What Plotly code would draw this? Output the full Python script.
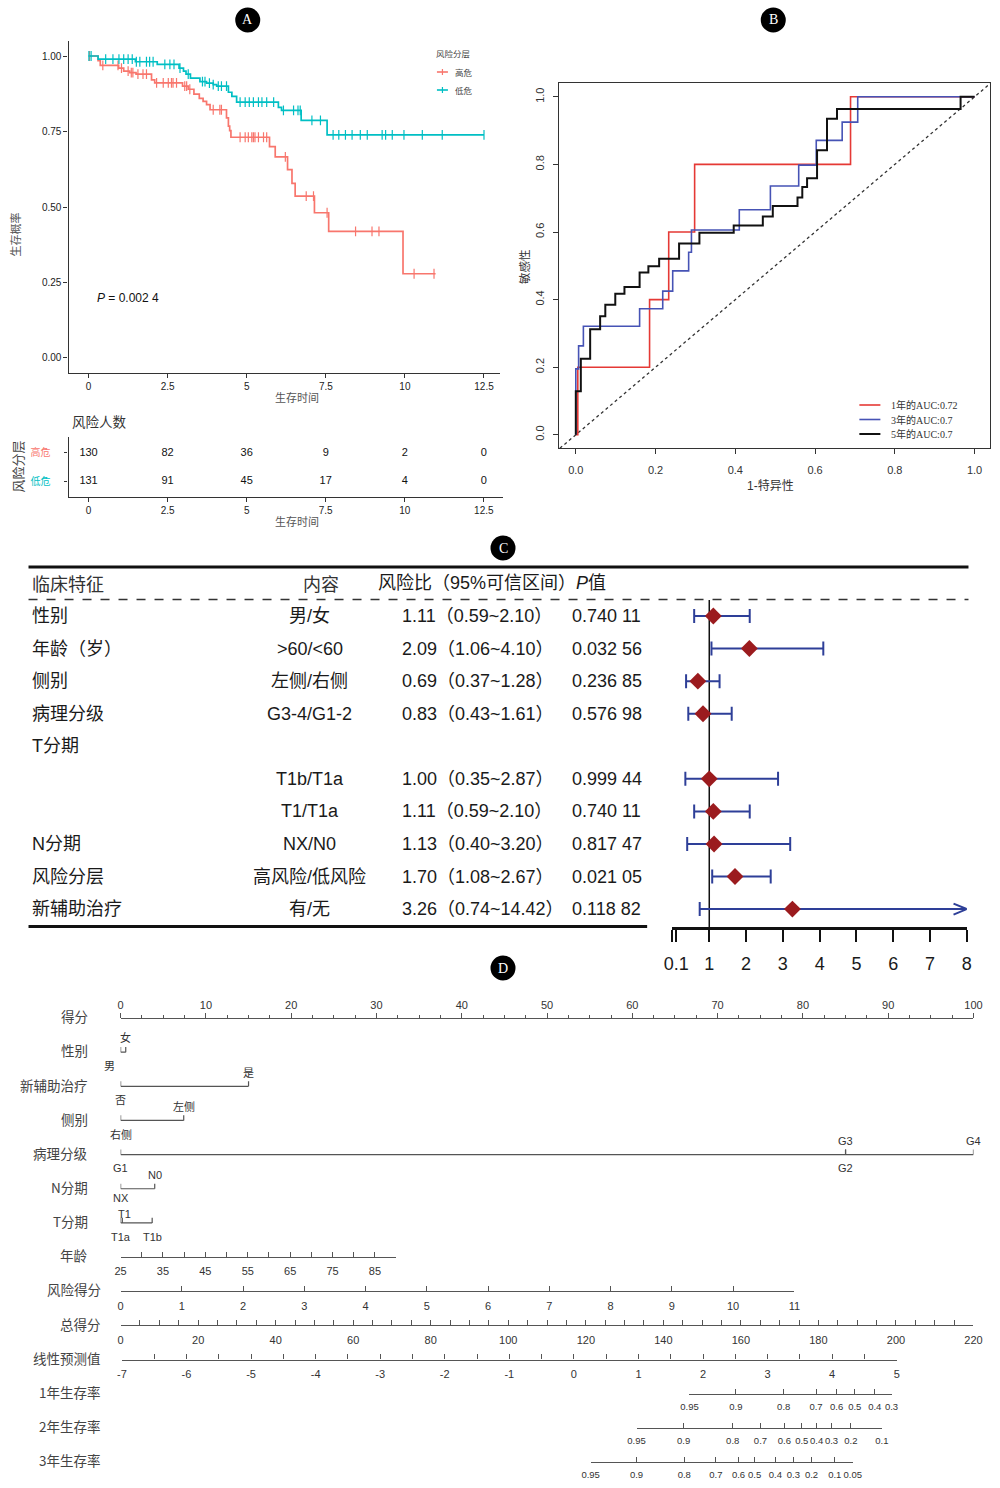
import numpy as np
import plotly.graph_objects as go

W, H = 1000, 1488
# the photographed page places paper x in [~9.5, ~990.5] px; map reference pixels accordingly
X_OFF, X_SCALE = 9.5, 0.981


def fx(p):
    return (p - X_OFF) / (W * X_SCALE)


def fy(p):
    return 1 - p / H


SANS = "Liberation Sans, Noto Sans CJK SC, sans-serif"
NARROW = "Liberation Sans Narrow, Liberation Sans, Noto Sans CJK SC, sans-serif"
SERIF = "Liberation Serif, Noto Sans CJK SC, serif"
CJK = "Noto Sans CJK SC, sans-serif"

# ======================= DATA =======================
km_high_time = [0, 0.30, 0.37, 0.95, 1.11, 1.30, 1.50, 1.99, 2.09, 2.97, 3.15, 3.33, 3.50, 3.62,
                3.73, 3.84, 4.36, 4.42, 4.46, 4.50, 5.72, 5.90, 6.29, 6.43, 6.53, 7.14, 7.59, 9.94]
km_high_surv = [1.0, 0.985, 0.969, 0.96, 0.95, 0.945, 0.94, 0.921, 0.911, 0.90, 0.89, 0.874, 0.86, 0.85,
                0.839, 0.822, 0.795, 0.768, 0.753, 0.731, 0.70, 0.666, 0.624, 0.578, 0.536, 0.481, 0.419, 0.279]
km_high_end = 10.97
km_high_censor = [0.03, 0.45, 0.93, 1.04, 1.25, 1.35, 1.40, 1.56, 1.72, 1.83, 2.15, 2.36, 2.52, 2.62,
                  2.67, 2.78, 3.04, 3.10, 3.20, 3.94, 4.15, 4.20, 4.79, 4.95, 5.05, 5.16, 5.21, 5.26,
                  5.37, 5.53, 5.63, 6.22, 6.88, 7.11, 7.54, 8.44, 8.96, 9.18, 10.29, 10.92]

km_low_time = [0, 0.30, 1.48, 2.17, 2.86, 3.00, 3.08, 3.22, 3.52, 3.73, 3.94, 4.05, 4.42, 4.53,
               4.68, 6.00, 6.10, 6.72, 7.54]
km_low_surv = [1.0, 0.99, 0.981, 0.972, 0.96, 0.95, 0.94, 0.927, 0.915, 0.91, 0.905, 0.90, 0.88, 0.866,
               0.847, 0.83, 0.82, 0.787, 0.739]
km_low_end = 12.5
km_low_censor = [0.01, 0.08, 0.54, 0.77, 0.96, 1.11, 1.25, 1.38, 1.51, 1.62, 1.83, 1.93, 2.04, 2.41,
                 2.57, 2.70, 2.89, 3.15, 3.60, 3.68, 3.82, 3.94, 4.10, 4.20, 4.36, 4.79, 4.95, 5.08,
                 5.21, 5.37, 5.48, 5.63, 5.85, 6.16, 6.48, 6.62, 6.69, 7.06, 7.33, 7.73, 7.91, 8.12,
                 8.33, 8.59, 8.81, 9.28, 9.39, 9.60, 9.97, 10.55, 11.18, 12.5]

km_time_ticks = [0, 2.5, 5, 7.5, 10, 12.5]
km_time_ticktext = ["0", "2.5", "5", "7.5", "10", "12.5"]
km_surv_ticks = [0, 0.25, 0.5, 0.75, 1.0]
km_p_value_y = 0.199
km_p_text = "<i>P</i> = 0.002 4"
group_names = ["高危", "低危"]

risk_times = [0, 2.5, 5, 7.5, 10, 12.5]
risk_high = [130, 82, 36, 9, 2, 0]
risk_low = [131, 91, 45, 17, 4, 0]

roc1_fpr = [0, 0.005, 0.185, 0.233, 0.298, 0.689, 1.0]
roc1_tpr = [0, 0.2, 0.4, 0.6, 0.8, 1.0, 1.0]
roc3_fpr = [0, 0, 0.007, 0.019, 0.160, 0.218, 0.243, 0.283, 0.290, 0.410, 0.488, 0.559, 0.603,
            0.668, 0.707, 1.0]
roc3_tpr = [0, 0.195, 0.263, 0.321, 0.373, 0.425, 0.485, 0.540, 0.606, 0.666, 0.736, 0.798, 0.871,
            0.925, 1.0, 1.0]
roc5_fpr = [0, 0, 0.0126, 0.036, 0.061, 0.074, 0.099, 0.122, 0.160, 0.182, 0.209, 0.259, 0.310,
            0.396, 0.469, 0.494, 0.556, 0.568, 0.580, 0.605, 0.630, 0.655, 0.965, 1.0]
roc5_tpr = [0, 0.129, 0.225, 0.312, 0.351, 0.385, 0.417, 0.437, 0.480, 0.499, 0.521, 0.566, 0.598,
            0.619, 0.646, 0.677, 0.702, 0.733, 0.759, 0.842, 0.935, 0.964, 1.0, 1.0]
roc_labels = ["1年的AUC:0.72", "3年的AUC:0.7", "5年的AUC:0.7"]
roc_ticks = [0, 0.2, 0.4, 0.6, 0.8, 1.0]

forest_feature = ["性别", "年龄（岁）", "侧别", "病理分级", "T分期", "", "", "N分期", "风险分层", "新辅助治疗"]
forest_content = ["男/女", "&gt;60/&lt;60", "左侧/右侧", "G3-4/G1-2", "", "T1b/T1a", "T1/T1a", "NX/N0",
                  "高风险/低风险", "有/无"]
forest_hr = [1.11, 2.09, 0.69, 0.83, None, 1.00, 1.11, 1.13, 1.70, 3.26]
forest_lo = [0.59, 1.06, 0.37, 0.43, None, 0.35, 0.59, 0.40, 1.08, 0.74]
forest_hi = [2.10, 4.10, 1.28, 1.61, None, 2.87, 2.10, 3.20, 2.67, 14.42]
forest_p = ["0.740 11", "0.032 56", "0.236 85", "0.576 98", "", "0.999 44", "0.740 11", "0.817 47",
            "0.021 05", "0.118 82"]
forest_header = ["临床特征", "内容", "风险比（95%可信区间）<i>P</i>值"]
forest_ticks = [0, 0.1, 1, 2, 3, 4, 5, 6, 7, 8]
forest_ticktext = ["", "0.1", "1", "2", "3", "4", "5", "6", "7", "8"]
forest_xmax = 8

nomo_row_labels = ["得分", "性别", "新辅助治疗", "侧别", "病理分级", "N分期", "T分期", "年龄",
                   "风险得分", "总得分", "线性预测值", "1年生存率", "2年生存率", "3年生存率"]
sex_levels, sex_points = ["男", "女"], [0, 0.6]
neo_levels, neo_points = ["否", "是"], [0, 15]
side_levels, side_points = ["右侧", "左侧"], [0, 7.4]
grade_levels, grade_points = ["G1", "G2", "G3", "G4"], [0, 85, 85, 100]
nstage_levels, nstage_points = ["NX", "N0"], [0, 4]
tstage_levels, tstage_points = ["T1a", "T1", "T1b"], [0, 0.2, 3.7]

age_range = [25, 90]
age_points_at_max = 32.3
risk_range = [0, 11]
risk_points_at_max = 79.0
total_range = [0, 220]
lp_range = [-7, 5]
lp_points_span = [0.15, 91.0]

surv1_prob = ["0.95", "0.9", "0.8", "0.7", "0.6", "0.5", "0.4", "0.3"]
surv1_lp = [1.79, 2.51, 3.25, 3.75, 4.07, 4.35, 4.66, 4.92]
surv2_prob = ["0.95", "0.9", "0.8", "0.7", "0.6", "0.5", "0.4", "0.3", "0.2", "0.1"]
surv2_lp = [0.97, 1.70, 2.46, 2.89, 3.26, 3.53, 3.76, 3.99, 4.29, 4.77]
surv3_prob = ["0.95", "0.9", "0.8", "0.7", "0.6", "0.5", "0.4", "0.3", "0.2", "0.1", "0.05"]
surv3_lp = [0.26, 0.97, 1.71, 2.20, 2.55, 2.80, 3.12, 3.40, 3.68, 4.04, 4.32]

# ======================= STYLE =======================
RED_A, CYAN_A = "#F8766D", "#00BFC4"
ROC_COLORS = ["#E53935", "#4653B5", "#111111"]
ROC_WIDTHS = [1.6, 1.6, 2.0]
BLUE_F, RED_F = "#2E3F98", "#9B1B1E"
NOMO_LINE = "#555555"
TXT = "#1a1a1a"

fig = go.Figure()
annotations = []
shapes = []


def note(x, y, text, size, color="#333", family=CJK, xanchor="center", angle=0, yref="paper"):
    annotations.append(dict(x=x, y=y, xref="paper", yref=yref, text=text, showarrow=False,
                            xanchor=xanchor, yanchor="middle", textangle=angle,
                            font=dict(size=size, color=color, family=family)))


def step_lookup(times, surv, t):
    idx = np.searchsorted(np.asarray(times), np.asarray(t), side="right") - 1
    return np.asarray(surv)[idx]


# ---------------- Panel A ----------------
for times, surv, end, cens, color in [
    (km_high_time, km_high_surv, km_high_end, km_high_censor, RED_A),
    (km_low_time, km_low_surv, km_low_end, km_low_censor, CYAN_A),
]:
    fig.add_trace(go.Scatter(x=times + [end], y=surv + [surv[-1]], mode="lines",
                             line=dict(color=color, width=1.7, shape="hv"),
                             xaxis="x", yaxis="y", hoverinfo="skip"))
    fig.add_trace(go.Scatter(x=cens, y=step_lookup(times, surv, cens), mode="markers",
                             marker=dict(symbol="line-ns-open", size=7, color=color,
                                         line=dict(color=color, width=1.2)),
                             xaxis="x", yaxis="y", hoverinfo="skip"))

for yv, counts in [(1, risk_high), (0, risk_low)]:
    fig.add_trace(go.Scatter(x=risk_times, y=[yv] * len(risk_times), mode="text",
                             text=[str(c) for c in counts],
                             textfont=dict(size=11, color="#111", family=NARROW),
                             xaxis="x2", yaxis="y2", hoverinfo="skip", cliponaxis=False))

# ---------------- Panel B ----------------
fig.add_trace(go.Scatter(x=[-0.04, 1.04], y=[-0.04, 1.04], mode="lines",
                         line=dict(color="#333", width=1.3, dash="dot"),
                         xaxis="x3", yaxis="y3", hoverinfo="skip"))
for fpr, tpr, color, wdt in zip([roc1_fpr, roc3_fpr, roc5_fpr], [roc1_tpr, roc3_tpr, roc5_tpr],
                                ROC_COLORS, ROC_WIDTHS):
    fig.add_trace(go.Scatter(x=fpr, y=tpr, mode="lines", line=dict(color=color, width=wdt, shape="hv"),
                             xaxis="x3", yaxis="y3", hoverinfo="skip"))

# ---------------- Panel C ----------------
rows_c = list(range(len(forest_feature)))
DASH_ROW = -0.49
fig.add_trace(go.Scatter(x=[1, 1], y=[DASH_ROW, 9.55], mode="lines", line=dict(color="#111", width=1.5),
                         xaxis="x4", yaxis="y4", hoverinfo="skip"))
in_r = [i for i in rows_c if forest_hr[i] is not None and forest_hi[i] <= forest_xmax]
fig.add_trace(go.Scatter(
    x=[forest_hr[i] for i in in_r], y=in_r, mode="markers",
    marker=dict(symbol="diamond", size=1, color="rgba(0,0,0,0)"),
    error_x=dict(type="data", symmetric=False,
                 array=[forest_hi[i] - forest_hr[i] for i in in_r],
                 arrayminus=[forest_hr[i] - forest_lo[i] for i in in_r],
                 color=BLUE_F, thickness=2, width=7),
    xaxis="x4", yaxis="y4", hoverinfo="skip", cliponaxis=False))
for i in rows_c:
    if forest_hr[i] is not None and forest_hi[i] > forest_xmax:
        xs = [forest_lo[i], forest_xmax, None, forest_lo[i], forest_lo[i], None,
              forest_xmax - 0.36, forest_xmax, forest_xmax - 0.36]
        ys = [i, i, None, i - 0.215, i + 0.215, None, i - 0.17, i, i + 0.17]
        fig.add_trace(go.Scatter(x=xs, y=ys, mode="lines", line=dict(color=BLUE_F, width=2),
                                 xaxis="x4", yaxis="y4", hoverinfo="skip", cliponaxis=False))
hr_rows = [i for i in rows_c if forest_hr[i] is not None]
fig.add_trace(go.Scatter(x=[forest_hr[i] for i in hr_rows], y=hr_rows, mode="markers",
                         marker=dict(symbol="diamond", size=13, color=RED_F),
                         xaxis="x4", yaxis="y4", hoverinfo="skip", cliponaxis=False))

note(fx(30), -1.01, forest_header[0], 18, "#333", CJK, "left", yref="y4")
note(fx(321), -1.01, forest_header[1], 18, "#333", CJK, "center", yref="y4")
note(fx(376), -1.01, forest_header[2], 18, TXT, SANS, "left", yref="y4")
for i in rows_c:
    if forest_feature[i]:
        note(fx(30), i, forest_feature[i], 18, TXT, SANS, "left", yref="y4")
    if forest_content[i]:
        note(fx(310), i, forest_content[i], 18, TXT, SANS, "center", yref="y4")
    if forest_hr[i] is not None:
        note(fx(400), i, f"{forest_hr[i]:.2f}（{forest_lo[i]:.2f}~{forest_hi[i]:.2f}）", 18, TXT, SANS,
             "left", yref="y4")
    if forest_p[i]:
        note(fx(570), i, forest_p[i], 18, TXT, SANS, "left", yref="y4")
shapes.append(dict(type="line", xref="paper", yref="paper", x0=fx(29), x1=fx(968), y0=fy(567), y1=fy(567),
                   line=dict(color="#111", width=3)))
shapes.append(dict(type="line", xref="paper", yref="paper", x0=fx(29), x1=fx(968), y0=fy(599.5), y1=fy(599.5),
                   line=dict(color="#333", width=1.3, dash="dash")))
shapes.append(dict(type="line", xref="paper", yref="paper", x0=fx(29), x1=fx(647), y0=fy(926.5), y1=fy(926.5),
                   line=dict(color="#111", width=3)))

# ---------------- Panel D ----------------
ROW0, ROWH = 1018, 34.15
PTS_PX0, PTS_PX1 = 121, 973


def row_px(i):
    return ROW0 + ROWH * i


def pts_px(p):
    return PTS_PX0 + (PTS_PX1 - PTS_PX0) * p / 100.0


def lp_to_pts(lp):
    return lp_points_span[0] + (lp - lp_range[0]) / (lp_range[1] - lp_range[0]) * (lp_points_span[1] - lp_points_span[0])


cat_rows = [
    (1, sex_levels, sex_points, ["below", "above"]),
    (2, neo_levels, neo_points, ["below", "above"]),
    (3, side_levels, side_points, ["below", "above"]),
    (4, grade_levels, grade_points, ["below", "below", "above", "above"]),
    (5, nstage_levels, nstage_points, ["below", "above"]),
    (6, tstage_levels, tstage_points, ["below", "above", "below"]),
]
label_xshift = {"男": -11, "T1": 2}
label_gap = {"NX": 0.27, "T1": 0.27, "女": 0.42}
for r, levels, points, sides in cat_rows:
    xs = [min(points), max(points)]
    ys = [r, r]
    for p in points:
        xs += [None, p, p]
        ys += [None, r, r - 0.15]
    fig.add_trace(go.Scatter(x=xs, y=ys, mode="lines", line=dict(color=NOMO_LINE, width=1.2),
                             xaxis="x5", yaxis="y5", hoverinfo="skip", cliponaxis=False))
    for lev, p, sd in zip(levels, points, sides):
        g = label_gap.get(lev, 0.40)
        annotations.append(dict(x=p, y=r + (-g if sd == "above" else g), xref="x5", yref="y5",
                                text=lev, showarrow=False, xshift=label_xshift.get(lev, 0),
                                xanchor="center", yanchor="middle",
                                font=dict(size=11, color="#333", family=SANS)))

for i, lab in enumerate(nomo_row_labels):
    rx = 90 if i < 8 else 103
    note(fx(rx), i - 0.05, lab, 13.5, "#444", CJK, "right", yref="y5")

EPS = 1e-6
age_ticks = list(range(age_range[0], age_range[1] + 1, 5))
total_ticks = list(range(total_range[0], total_range[1] + 1, 5))
lp_ticks = list(np.arange(lp_range[0], lp_range[1] + 0.01, 0.5))

cont_axes = [
    ("x6", 7, [0, age_points_at_max], age_range, age_ticks,
     [str(v) if (v - age_range[0]) % 10 == 0 and v < age_range[1] else "" for v in age_ticks]),
    ("x7", 8, [0, risk_points_at_max], risk_range, list(range(risk_range[0], risk_range[1] + 1)),
     [str(v) for v in range(risk_range[0], risk_range[1] + 1)]),
    ("x8", 9, [0, 100], total_range, total_ticks, [str(v) if v % 20 == 0 else "" for v in total_ticks]),
    ("x9", 10, lp_points_span, lp_range, lp_ticks,
     [str(int(v)) if float(v).is_integer() else "" for v in lp_ticks]),
    ("x10", 11, [lp_to_pts(surv1_lp[0]), lp_to_pts(surv1_lp[-1])], [surv1_lp[0], surv1_lp[-1]], surv1_lp, surv1_prob),
    ("x11", 12, [lp_to_pts(surv2_lp[0]), lp_to_pts(surv2_lp[-1])], [surv2_lp[0], surv2_lp[-1]], surv2_lp, surv2_prob),
    ("x12", 13, [lp_to_pts(surv3_lp[0]), lp_to_pts(surv3_lp[-1])], [surv3_lp[0], surv3_lp[-1]], surv3_lp, surv3_prob),
]

layout_axes = {}
for name, r, pspan, rng, tv, tt in cont_axes:
    fig.add_trace(go.Scatter(x=[rng[0]], y=[r], mode="markers", marker=dict(opacity=0, size=1),
                             xaxis=name, yaxis="y5", hoverinfo="skip"))
    small = name in ("x10", "x11", "x12")
    layout_axes["xaxis" + name[1:]] = dict(
        domain=[fx(pts_px(pspan[0])), fx(pts_px(pspan[1]))], range=[rng[0] - EPS, rng[1] + EPS],
        anchor="free", position=fy(row_px(r)), side="bottom", showline=True, linecolor=NOMO_LINE,
        linewidth=1.2, ticks="inside", ticklen=5, tickcolor=NOMO_LINE, tickwidth=1,
        tickmode="array", tickvals=tv, ticktext=tt, tickangle=0,
        tickfont=dict(size=9.5 if small else 11, color="#333", family=NARROW if small else SANS),
        showgrid=False, zeroline=False, ticklabelstandoff=4, fixedrange=True)

# ---------------- badges ----------------
for letter, cx, cy in [("A", 248, 20), ("B", 773, 20), ("C", 503, 548), ("D", 503, 968)]:
    shapes.append(dict(type="circle", xref="paper", yref="paper", x0=fx(cx - 12.5), x1=fx(cx + 12.5),
                       y0=fy(cy + 12.5), y1=fy(cy - 12.5), fillcolor="#000", line=dict(width=0)))
    note(fx(cx), fy(cy), letter, 14, "white", SERIF, "center")

# ---------------- Panel A texts & legend ----------------
annotations.append(dict(x=fx(95), y=km_p_value_y, xref="paper", yref="y", text=km_p_text, xanchor="left",
                        yanchor="middle", showarrow=False, font=dict(size=12, color="#111", family=SANS)))
note(fx(15), fy(235), "生存概率", 11, "#555", CJK, "center", angle=-90)
note(fx(297), fy(397), "生存时间", 11, "#555", CJK, "center")
note(fx(70), fy(421), "风险人数", 13.5, "#333", CJK, "left")
note(fx(17), fy(467), "风险分层", 13, "#444", CJK, "center", angle=-90)
note(fx(297), fy(521), "生存时间", 11, "#555", CJK, "center")
note(fx(434), fy(53), "风险分层", 8.5, "#444", CJK, "left")
for k, (nm, col) in enumerate(zip(group_names, [RED_A, CYAN_A])):
    yy = 72 + 18 * k
    shapes.append(dict(type="line", xref="paper", yref="paper", x0=fx(437), x1=fx(448), y0=fy(yy), y1=fy(yy),
                       line=dict(color=col, width=1.6)))
    shapes.append(dict(type="line", xref="paper", yref="paper", x0=fx(442.5), x1=fx(442.5), y0=fy(yy - 3),
                       y1=fy(yy + 3), line=dict(color=col, width=1.2)))
    note(fx(453), fy(yy), nm, 8.5, "#444", CJK, "left")

# ---------------- Panel B texts & legend ----------------
note(fx(524), fy(267), "敏感性", 11.5, "#333", CJK, "center", angle=-90)
note(fx(770), fy(485), "1-特异性", 12, "#333", SANS, "center")
for k, (lab, col, wdt) in enumerate(zip(roc_labels, ROC_COLORS, ROC_WIDTHS)):
    yy = 405 + 14.5 * k
    shapes.append(dict(type="line", xref="paper", yref="paper", x0=fx(859), x1=fx(880), y0=fy(yy), y1=fy(yy),
                       line=dict(color=col, width=wdt)))
    note(fx(889), fy(yy), lab, 10, "#333", SERIF, "left")

# ======================= LAYOUT =======================
base_ax = dict(showgrid=False, zeroline=False, fixedrange=True)
fig.update_layout(
    width=W, height=H, margin=dict(l=0, r=0, t=0, b=0), showlegend=False,
    paper_bgcolor="white", plot_bgcolor="rgba(0,0,0,0)",
    xaxis=dict(base_ax, domain=[fx(69), fx(500)], range=[-0.633, 13.006], anchor="y",
               tickvals=km_time_ticks, ticktext=km_time_ticktext, ticks="outside", ticklen=4,
               tickcolor="#333", showline=True, linecolor="#333", linewidth=1.3,
               tickfont=dict(size=10, color="#222", family=NARROW)),
    yaxis=dict(base_ax, domain=[fy(373), fy(41)], range=[-0.0497, 1.0497], anchor="x",
               tickvals=km_surv_ticks, tickformat=".2f", ticks="outside", ticklen=4, tickcolor="#333",
               showline=True, linecolor="#333", linewidth=1.3,
               tickfont=dict(size=10, color="#222", family=NARROW)),
    xaxis2=dict(base_ax, domain=[fx(69), fx(503)], range=[-0.633, 13.106], anchor="y2",
                tickvals=km_time_ticks, ticktext=km_time_ticktext, ticks="outside", ticklen=4,
                tickcolor="#333", showline=True, linecolor="#333", linewidth=1.3,
                tickfont=dict(size=10, color="#222", family=NARROW)),
    yaxis2=dict(base_ax, domain=[fy(497), fy(437)], range=[-0.571, 1.571], anchor="x2",
                tickvals=[1, 0],
                ticktext=[f'<span style="color:{RED_A}">{group_names[0]}</span>',
                          f'<span style="color:{CYAN_A}">{group_names[1]}</span>'],
                ticks="outside", ticklen=3, tickcolor="#333", showline=True, linecolor="#333",
                linewidth=1.3, ticklabelstandoff=12, tickfont=dict(size=10, family=CJK)),
    xaxis3=dict(base_ax, domain=[fx(559), fx(990)], range=[-0.042, 1.04], anchor="y3",
                tickvals=roc_ticks, tickformat=".1f", ticks="outside", ticklen=5, tickcolor="#333",
                showline=True, mirror=True, linecolor="#333", linewidth=1, ticklabelstandoff=6,
                tickfont=dict(size=11, color="#333", family=SANS)),
    yaxis3=dict(base_ax, domain=[fy(448.3), fy(83.3)], range=[-0.04, 1.04], anchor="x3",
                tickvals=roc_ticks, tickformat=".1f", ticks="outside", ticklen=5, tickcolor="#333",
                showline=True, mirror=True, linecolor="#333", linewidth=1, tickangle=-90,
                ticklabelstandoff=5, tickfont=dict(size=11, color="#333", family=SANS)),
    xaxis4=dict(base_ax, domain=[fx(672.3), fx(966.3)], range=[0 - EPS, forest_xmax + EPS], anchor="y4",
                tickvals=forest_ticks, ticktext=forest_ticktext, ticks="outside", ticklen=12, tickwidth=2.2,
                tickcolor="#111", showline=True, linecolor="#111", linewidth=2.5, ticklabelstandoff=7,
                tickfont=dict(size=18, color=TXT, family=SANS)),
    yaxis4=dict(base_ax, domain=[fy(927), fy(560)], range=[9.55, -1.72], anchor="x4", visible=False),
    xaxis5=dict(base_ax, domain=[fx(PTS_PX0), fx(PTS_PX1)], range=[-EPS, 100 + EPS], anchor="free",
                position=fy(row_px(0)), side="top", dtick=10, tick0=0, ticks="outside", ticklen=5,
                tickcolor=NOMO_LINE, showline=True, linecolor=NOMO_LINE, linewidth=1.2,
                minor=dict(dtick=2.5, ticks="outside", ticklen=3, tickcolor=NOMO_LINE),
                tickfont=dict(size=11, color="#333", family=SANS)),
    yaxis5=dict(base_ax, domain=[0, fy(990)], range=[(H - ROW0) / ROWH, (990 - ROW0) / ROWH],
                anchor="x5", visible=False),
    annotations=annotations, shapes=shapes,
)
fig.update_layout(**layout_axes)

fig.write_html(
    "out.html",
    config={"displayModeBar": False, "responsive": False},
    post_script="document.body.style.margin='0';document.body.style.padding='0';"
                "document.documentElement.style.overflow='hidden';",
)
